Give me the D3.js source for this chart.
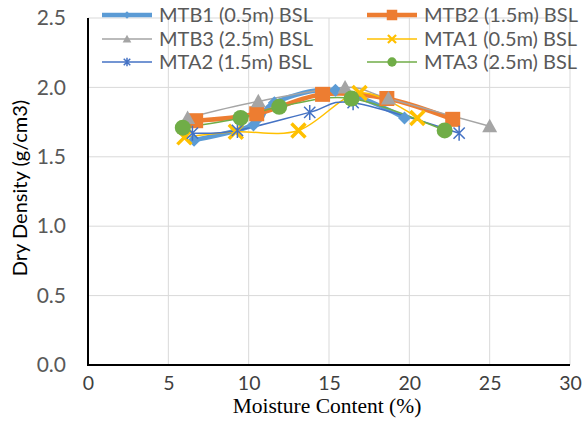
<!DOCTYPE html>
<html><head><meta charset="utf-8">
<script src="https://cdn.jsdelivr.net/npm/d3@7"></script>
<style>body{margin:0;background:#fff}svg{display:block}</style>
</head><body><svg id="c" width="584" height="428"></svg>
<script>
const seriesNames = ["MTB1 (0.5m) BSL","MTB2 (1.5m) BSL","MTB3 (2.5m) BSL","MTA1 (0.5m) BSL","MTA2 (1.5m) BSL","MTA3 (2.5m) BSL"];
const mtb1X = [6.6, 10.3, 11.6, 15.4, 19.7];
const mtb1Y = [1.62, 1.73, 1.89, 1.98, 1.78];
const mtb2X = [6.7, 10.5, 14.6, 18.6, 22.7];
const mtb2Y = [1.76, 1.81, 1.95, 1.92, 1.77];
const mtb3X = [6.2, 10.6, 16.0, 18.7, 25.0];
const mtb3Y = [1.78, 1.90, 2.00, 1.92, 1.72];
const mta1X = [6.0, 9.2, 13.1, 16.9, 20.5];
const mta1Y = [1.64, 1.68, 1.69, 1.96, 1.78];
const mta2X = [6.5, 9.3, 13.8, 16.5, 23.1];
const mta2Y = [1.67, 1.69, 1.82, 1.89, 1.67];
const mta3X = [5.9, 9.5, 11.9, 16.4, 22.2];
const mta3Y = [1.71, 1.78, 1.86, 1.92, 1.69];
const xTicks = [0,5,10,15,20,25,30];
const yTicks = [0,0.5,1.0,1.5,2.0,2.5];

const styles = [
  {color:"#5B9BD5", w:4.5, sym:"diamond", size:13},
  {color:"#ED7D31", w:4.5, sym:"square", size:15},
  {color:"#A5A5A5", w:1.5, sym:"triangle", size:15},
  {color:"#FFC000", w:1.5, sym:"x", size:14},
  {color:"#4472C4", w:1.5, sym:"star", size:15},
  {color:"#70AD47", w:1.5, sym:"circle", size:16}
];
const data = [[mtb1X,mtb1Y],[mtb2X,mtb2Y],[mtb3X,mtb3Y],[mta1X,mta1Y],[mta2X,mta2Y],[mta3X,mta3Y]]
  .map(([xs,ys],i)=>({name:seriesNames[i], pts:xs.map((x,j)=>({x, y:ys[j]})), st:styles[i]}));

const svg = d3.select("#c");
const L=88, R=570, T=18, B=365;
const FONT = "Lato, 'Open Sans', sans-serif";
const x = d3.scaleLinear().domain([0,30]).range([L,R]);
const y = d3.scaleLinear().domain([0,2.5]).range([B,T]);

// gridlines
const g = svg.append("g");
g.selectAll(".vg").data(xTicks.slice(1)).join("line")
  .attr("x1",d=>x(d)).attr("x2",d=>x(d)).attr("y1",T).attr("y2",B)
  .attr("stroke","#d9d9d9").attr("stroke-width",1);
g.selectAll(".hg").data(yTicks.slice(1)).join("line")
  .attr("x1",L).attr("x2",R).attr("y1",d=>y(d)).attr("y2",d=>y(d))
  .attr("stroke","#d9d9d9").attr("stroke-width",1);

// axes
const xAxis = d3.axisBottom(x).tickValues(xTicks).tickSize(0).tickPadding(11).tickFormat(d3.format("d"));
const yAxis = d3.axisLeft(y).tickValues(yTicks).tickSize(0).tickPadding(22).tickFormat(d3.format(".1f"));
const gx = svg.append("g").attr("transform",`translate(0,${B})`).call(xAxis);
const gy = svg.append("g").attr("transform",`translate(${L},0)`).call(yAxis);
[gx,gy].forEach(a=>{
  a.select(".domain").remove();
  a.selectAll("text").attr("fill","#595959").attr("font-family",FONT).attr("font-size",21);
});
gx.selectAll("text").attr("dy","0.71em").attr("fill","#404040").attr("font-size",19.5);
svg.append("line").attr("x1",L).attr("x2",L).attr("y1",T).attr("y2",B+1).attr("stroke","#000").attr("stroke-width",2);
svg.append("line").attr("x1",L-1).attr("x2",R).attr("y1",B).attr("y2",B).attr("stroke","#000").attr("stroke-width",2);

// titles
svg.append("text").attr("x",327).attr("y",413).attr("text-anchor","middle")
  .attr("font-family","'Liberation Serif', serif").attr("font-size",21.5).attr("fill","#000")
  .text("Moisture Content (%)");
svg.append("text").attr("transform",`translate(27,188) rotate(-90)`).attr("text-anchor","middle")
  .attr("font-family",FONT).attr("font-size",20).attr("fill","#000")
  .text("Dry Density (g/cm3)");

function drawMarker(sel, st, scale=1){
  const s = st.size*scale, r = s/2;
  if(st.sym==="star"){
    const d = r*0.75;
    sel.append("path").attr("d",`M0,${-r}L0,${r}M${-d},${-d}L${d},${d}M${-d},${d}L${d},${-d}`)
      .attr("stroke",st.color).attr("stroke-width",1.5).attr("fill","none");
  } else if(st.sym==="x"){
    sel.append("path").attr("d",`M${-r},${-r}L${r},${r}M${-r},${r}L${r},${-r}`)
      .attr("stroke",st.color).attr("stroke-width",3*scale+0.5).attr("fill","none");
  } else if(st.sym==="diamond"){
    sel.append("path").attr("d",`M0,${-r}L${r},0L0,${r}L${-r},0Z`).attr("fill",st.color);
  } else if(st.sym==="triangle"){
    sel.append("path").attr("d",`M0,${-r}L${r},${r*0.8}L${-r},${r*0.8}Z`).attr("fill",st.color);
  } else if(st.sym==="square"){
    sel.append("rect").attr("x",-r).attr("y",-r).attr("width",s).attr("height",s).attr("fill",st.color);
  } else {
    sel.append("circle").attr("r",r).attr("fill",st.color);
  }
}

const line = d3.line().x(d=>x(d.x)).y(d=>y(d.y)).curve(d3.curveCatmullRom.alpha(0));
data.forEach(s=>{
  svg.append("path").datum(s.pts).attr("d",line).attr("fill","none")
    .attr("stroke",s.st.color).attr("stroke-width",s.st.w).attr("stroke-linejoin","round");
});
data.forEach(s=>{
  s.pts.forEach(p=>{
    const m = svg.append("g").attr("transform",`translate(${x(p.x)},${y(p.y)})`);
    drawMarker(m, s.st);
  });
});

// legend
const legX=[102,367], legY=[15,39,62];
data.forEach((s,i)=>{
  const lx=legX[i%2], ly=legY[Math.floor(i/2)];
  const lg = svg.append("g").attr("transform",`translate(${lx},${ly})`);
  lg.append("line").attr("x1",0).attr("x2",50).attr("y1",0).attr("y2",0).attr("stroke",s.st.color).attr("stroke-width",s.st.w);
  const m = lg.append("g").attr("transform","translate(25,0)");
  drawMarker(m, s.st, s.st.sym==="square"?0.7:0.58);
  lg.append("text").attr("x",57).attr("y",0).attr("dy","0.35em")
    .attr("font-family",FONT).attr("font-size",20).attr("fill","#595959").text(s.name);
});
</script></body></html>
